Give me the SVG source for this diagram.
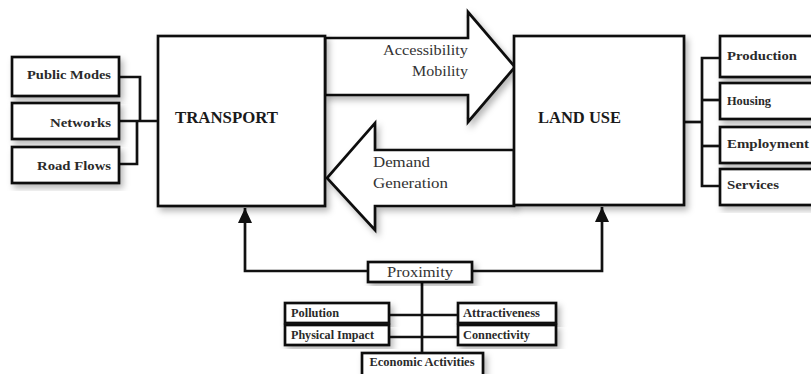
<svg xmlns="http://www.w3.org/2000/svg" width="811" height="374" viewBox="0 0 811 374">
<style>
.box{fill:#fff;stroke:#111;stroke-width:2.7}
.ln{fill:none;stroke:#111;stroke-width:2.7}
.big{font-family:"Liberation Serif","DejaVu Serif",serif;font-weight:bold;font-size:17px;fill:#1a1a1a}
.lab{font-family:"Liberation Serif","DejaVu Serif",serif;font-size:15.5px;fill:#333}
.sm{font-family:"Liberation Serif","DejaVu Serif",serif;font-weight:bold;font-size:13.5px;fill:#2a2a2a}
.xs{font-family:"Liberation Serif","DejaVu Serif",serif;font-weight:bold;font-size:11.5px;fill:#2a2a2a}
</style>
<defs>
<filter id="sh" x="-20%" y="-20%" width="140%" height="140%">
<feDropShadow dx="3" dy="4" stdDeviation="3" flood-color="#000" flood-opacity="0.28"/>
</filter>
<marker id="ah" markerUnits="userSpaceOnUse" markerWidth="16" markerHeight="14" refX="15" refY="7" orient="auto">
<path d="M0,0 L15,7 L0,14 Z" fill="#111"/>
</marker>
</defs>
<rect width="811" height="374" fill="#fff"/>

<g id="connectors">
<g filter="url(#sh)">
<polygon class="box" points="325,38 468,38 468,12 515,67 468,122 468,95 325,95"/>
<polygon class="box" points="514,150 375,150 375,123 327,178 375,230 375,206 514,206"/>
</g>
<text class="lab" x="468" y="55" text-anchor="end" textLength="85" lengthAdjust="spacingAndGlyphs">Accessibility</text>
<text class="lab" x="468" y="76" text-anchor="end" textLength="56" lengthAdjust="spacingAndGlyphs">Mobility</text>
<text class="lab" x="373" y="167" textLength="57" lengthAdjust="spacingAndGlyphs">Demand</text>
<text class="lab" x="373" y="188" textLength="75" lengthAdjust="spacingAndGlyphs">Generation</text>
<path class="ln" d="M119,77 H140 V121"/>
<path class="ln" d="M119,121 H158"/>
<path class="ln" d="M119,164 H137 V121"/>
<path class="ln" d="M684,122 H702"/>
<path class="ln" d="M720,58 H702 V186 H720"/>
<path class="ln" d="M702,100 H720"/>
<path class="ln" d="M702,146 H720"/>
<path class="ln" d="M368,271 H245 V208" marker-end="url(#ah)"/>
<path class="ln" d="M472,271 H602 V207" marker-end="url(#ah)"/>
<path class="ln" d="M422,282 V353"/>
<path class="ln" d="M389,315 H458"/>
<path class="ln" d="M389,337 H458"/>
</g>

<g id="transport">
<rect class="box" x="158" y="36" width="167" height="170" filter="url(#sh)"/>
<text class="big" x="175" y="123" textLength="103" lengthAdjust="spacingAndGlyphs">TRANSPORT</text>
</g>
<g id="landuse">
<rect class="box" x="514" y="36" width="170" height="169" filter="url(#sh)"/>
<text class="big" x="538" y="123" textLength="83" lengthAdjust="spacingAndGlyphs">LAND USE</text>
</g>

<g id="public-modes">
<rect class="box" x="12" y="57" width="107" height="39" filter="url(#sh)"/>
<text class="sm" x="111" y="79" text-anchor="end" textLength="84" lengthAdjust="spacingAndGlyphs">Public Modes</text>
</g>
<g id="networks">
<rect class="box" x="12" y="103" width="107" height="36" filter="url(#sh)"/>
<text class="sm" x="111" y="127" text-anchor="end" textLength="61" lengthAdjust="spacingAndGlyphs">Networks</text>
</g>
<g id="road-flows">
<rect class="box" x="12" y="147" width="107" height="36" filter="url(#sh)"/>
<text class="sm" x="111" y="170" text-anchor="end" textLength="74" lengthAdjust="spacingAndGlyphs">Road Flows</text>
</g>

<g id="production">
<rect class="box" x="720" y="36" width="100" height="41" filter="url(#sh)"/>
<text class="sm" x="727" y="60" textLength="70" lengthAdjust="spacingAndGlyphs">Production</text>
</g>
<g id="housing">
<rect class="box" x="720" y="83" width="100" height="36" filter="url(#sh)"/>
<text class="sm" x="727" y="105" textLength="44" lengthAdjust="spacingAndGlyphs">Housing</text>
</g>
<g id="employment">
<rect class="box" x="720" y="127" width="100" height="36" filter="url(#sh)"/>
<text class="sm" x="727" y="148" textLength="82" lengthAdjust="spacingAndGlyphs">Employment</text>
</g>
<g id="services">
<rect class="box" x="720" y="169" width="100" height="36" filter="url(#sh)"/>
<text class="sm" x="727" y="189" textLength="52" lengthAdjust="spacingAndGlyphs">Services</text>
</g>

<g id="proximity">
<rect class="box" x="368" y="262" width="104" height="20" filter="url(#sh)"/>
<text class="lab" x="420" y="277" text-anchor="middle" textLength="66" lengthAdjust="spacingAndGlyphs" fill="#222">Proximity</text>
</g>
<g id="pollution">
<rect class="box" x="285" y="303" width="104" height="20" filter="url(#sh)"/>
<text class="xs" x="291" y="317" textLength="48" lengthAdjust="spacingAndGlyphs">Pollution</text>
</g>
<g id="physical-impact">
<rect class="box" x="285" y="325" width="104" height="20" filter="url(#sh)"/>
<text class="xs" x="291" y="339" textLength="83" lengthAdjust="spacingAndGlyphs">Physical Impact</text>
</g>
<g id="attractiveness">
<rect class="box" x="458" y="303" width="98" height="20" filter="url(#sh)"/>
<text class="xs" x="463" y="317" textLength="77" lengthAdjust="spacingAndGlyphs">Attractiveness</text>
</g>
<g id="connectivity">
<rect class="box" x="458" y="325" width="98" height="20" filter="url(#sh)"/>
<text class="xs" x="463" y="339" textLength="67" lengthAdjust="spacingAndGlyphs">Connectivity</text>
</g>
<g id="economic-activities">
<rect class="box" x="362" y="353" width="121" height="30" filter="url(#sh)"/>
<text class="xs" x="422" y="366" text-anchor="middle" textLength="105" lengthAdjust="spacingAndGlyphs">Economic Activities</text>
</g>
</svg>
